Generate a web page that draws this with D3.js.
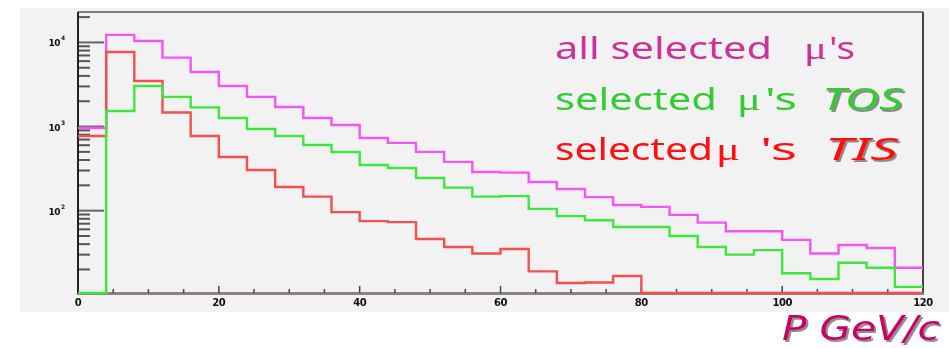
<!DOCTYPE html>
<html>
<head>
<meta charset="utf-8">
<script src="https://cdn.jsdelivr.net/npm/d3@7"></script>
<style>
  body { margin: 0; background: #fff; }
  svg { display: block; }
</style>
</head>
<body>
<div id="chart"></div>
<script>
// bin lower edges (GeV/c), 4 GeV wide bins
const binStarts = [0, 4, 8, 12, 16, 20, 24, 28, 32, 36, 40, 44, 48, 52, 56,
  60, 64, 68, 72, 76, 80, 84, 88, 92, 96, 100, 104, 108, 112, 116];
const binWidth = 4;

// counts per bin
const allSelected = [960, 12300, 10400, 6600, 4460, 3040, 2250, 1710, 1265, 1045,
  730, 640, 500, 380, 288, 283, 219, 181, 145, 117,
  111, 89, 72, 57, 57, 45, 31, 39, 36, 21];
const selectedTOS = [0, 1530, 3040, 2250, 1690, 1265, 935, 773, 604, 499,
  349, 321, 245, 188, 147, 149, 105, 86, 77, 64,
  64, 50, 37, 30, 34, 18, 15.4, 24, 21, 12.4];
const selectedTIS = [773, 7710, 3480, 1470, 773, 435, 305, 191, 147, 96,
  75, 73, 46, 37, 31, 35, 19, 13.8, 14, 16.7,
  0, 0, 0, 0, 0, 0, 0, 0, 0, 0];

const xTickLabels = [0, 20, 40, 60, 80, 100, 120];
const yDecades = [2, 3, 4];

const width = 949, height = 348;
const svg = d3.select("#chart").append("svg")
  .attr("width", width)
  .attr("height", height);

const defs = svg.append("defs");
defs.append("filter").attr("id", "soft")
  .append("feGaussianBlur").attr("stdDeviation", 0.6);
defs.append("filter").attr("id", "softer")
  .append("feGaussianBlur").attr("stdDeviation", 0.45);
defs.append("filter").attr("id", "shadow")
  .attr("x", "-10%").attr("y", "-20%").attr("width", "130%").attr("height", "150%")
  .append("feDropShadow")
  .attr("dx", 2).attr("dy", 2).attr("stdDeviation", 0.6)
  .attr("flood-color", "#444").attr("flood-opacity", 0.6);

// grey pad
svg.append("rect")
  .attr("x", 20).attr("y", 8)
  .attr("width", 929).attr("height", 304)
  .attr("fill", "#f2f2f2");

const x = d3.scaleLinear().domain([0, 120]).range([78, 923]);
const y = d3.scaleLog().domain([10.5, 23000]).range([293, 12]);
const y0 = y.range()[0];

const axes = svg.append("g").attr("filter", "url(#softer)");

// frame
axes.append("line")
  .attr("x1", x(0)).attr("x2", x(120)).attr("y1", y(23000)).attr("y2", y(23000))
  .attr("stroke", "#555").attr("stroke-width", 1.6);
axes.append("line")
  .attr("x1", x(120)).attr("x2", x(120)).attr("y1", y(23000)).attr("y2", y0)
  .attr("stroke", "#444").attr("stroke-width", 2);

// y axis, log ticks pointing inward
const yTicks = [];
for (const d of [10, 100, 1000, 10000]) {
  for (let m = 1; m <= 9; m++) {
    const v = d * m;
    if (v >= y.domain()[0] && v <= y.domain()[1]) yTicks.push(v);
  }
}
const isMajor = d => Math.abs(Math.log10(d) % 1) < 1e-9;
axes.selectAll("line.ytick")
  .data(yTicks)
  .join("line")
  .attr("class", "ytick")
  .attr("x1", x(0))
  .attr("x2", d => x(0) + (isMajor(d) ? 26 : 12))
  .attr("y1", d => y(d)).attr("y2", d => y(d))
  .attr("stroke", d => isMajor(d) ? "#666" : "#555")
  .attr("stroke-width", 2);

axes.append("line")
  .attr("x1", x(0)).attr("x2", x(0)).attr("y1", y(23000)).attr("y2", y0 + 1)
  .attr("stroke", "#222").attr("stroke-width", 2);

// x axis ticks every 5
const xTicks = d3.range(5, 120, 5);
axes.selectAll("line.xtick")
  .data(xTicks)
  .join("line")
  .attr("class", "xtick")
  .attr("x1", d => x(d)).attr("x2", d => x(d))
  .attr("y1", y0).attr("y2", d => y0 - (d % 20 === 0 ? 7 : 4))
  .attr("stroke", "#444").attr("stroke-width", 1.5);

// histograms
function stepPath(values) {
  const p = d3.path();
  values.forEach((v, i) => {
    const yy = v > 0 ? y(v) : y0;
    const xa = x(binStarts[i]), xb = x(binStarts[i] + binWidth);
    if (i === 0) p.moveTo(xa, yy); else p.lineTo(xa, yy);
    p.lineTo(xb, yy);
  });
  return p.toString();
}

const series = [
  { values: allSelected, color: "#f455f4" },
  { values: selectedTIS, color: "#f25050" },
  { values: selectedTOS, color: "#3ee83e" }
];

svg.append("g").attr("filter", "url(#soft)")
  .selectAll("path")
  .data(series)
  .join("path")
  .attr("d", d => stepPath(d.values))
  .attr("fill", "none")
  .attr("stroke", d => d.color)
  .attr("stroke-width", 2.4);

// bottom axis line
axes.append("line")
  .attr("x1", x(0) - 1).attr("x2", x(120) + 1).attr("y1", y0 + 0.5).attr("y2", y0 + 0.5)
  .attr("stroke", "rgba(60,40,40,0.55)").attr("stroke-width", 3);

// tick labels
const labels = svg.append("g").attr("filter", "url(#softer)")
  .attr("font-family", "DejaVu Sans, sans-serif")
  .attr("font-weight", "bold")
  .attr("fill", "#111");

labels.selectAll("text.xl")
  .data(xTickLabels)
  .join("text")
  .attr("class", "xl")
  .attr("x", d => x(d))
  .attr("y", 306)
  .attr("text-anchor", "middle")
  .attr("font-size", 10)
  .attr("letter-spacing", -0.5)
  .text(d => d);

const yl = labels.selectAll("g.yl")
  .data(yDecades)
  .join("g")
  .attr("class", "yl")
  .attr("transform", d => `translate(0,${y(Math.pow(10, d))})`);
yl.append("text")
  .attr("x", 60).attr("y", 4)
  .attr("text-anchor", "end")
  .attr("font-size", 9)
  .attr("letter-spacing", -0.5)
  .text("10");
yl.append("text")
  .attr("x", 61).attr("y", -2)
  .attr("font-size", 6)
  .text(d => d);

// legend
const legendFont = "'Comic Sans MS', 'Noto Sans', sans-serif";
const muFont = "'Liberation Serif', serif";
const legendRows = [
  { baseline: 59, color: "#cc3399", parts: [
    { t: "all selected", x: 555, w: 217, f: legendFont },
    { t: "\u03bc", x: 804, w: 23, f: muFont },
    { t: "'s", x: 829, w: 26, f: legendFont }
  ] },
  { baseline: 110, color: "#33cc33", parts: [
    { t: "selected", x: 555, w: 162, f: legendFont },
    { t: "\u03bc", x: 737, w: 24, f: muFont },
    { t: "'s", x: 765, w: 32, f: legendFont },
    { t: "TOS", x: 822, w: 81, f: legendFont, italic: true }
  ] },
  { baseline: 160, color: "#ff1010", parts: [
    { t: "selected", x: 555, w: 158, f: legendFont },
    { t: "\u03bc", x: 716, w: 24, f: muFont },
    { t: "'s", x: 760, w: 37, f: legendFont },
    { t: "TIS", x: 825, w: 73, f: legendFont, italic: true }
  ] }
];

const legend = svg.append("g");
legendRows.forEach(row => {
  row.parts.forEach(p => {
    legend.append("text")
      .attr("x", p.x).attr("y", row.baseline)
      .attr("font-family", p.f)
      .attr("font-size", p.f === muFont ? 32 : 30)
      .attr("font-style", p.italic ? "italic" : "normal")
      .attr("textLength", p.w).attr("lengthAdjust", "spacingAndGlyphs")
      .attr("fill", row.color)
      .attr("filter", p.italic ? "url(#shadow)" : null)
      .text(p.t);
  });
});

// axis title
svg.append("text")
  .attr("x", 782).attr("y", 339.6)
  .attr("font-family", "'Comic Sans MS', 'DejaVu Sans', sans-serif")
  .attr("font-size", 33)
  .attr("font-style", "italic")
  .attr("textLength", 158).attr("lengthAdjust", "spacingAndGlyphs")
  .attr("fill", "#cc0066")
  .attr("filter", "url(#shadow)")
  .text("P GeV/c");
</script>
</body>
</html>
